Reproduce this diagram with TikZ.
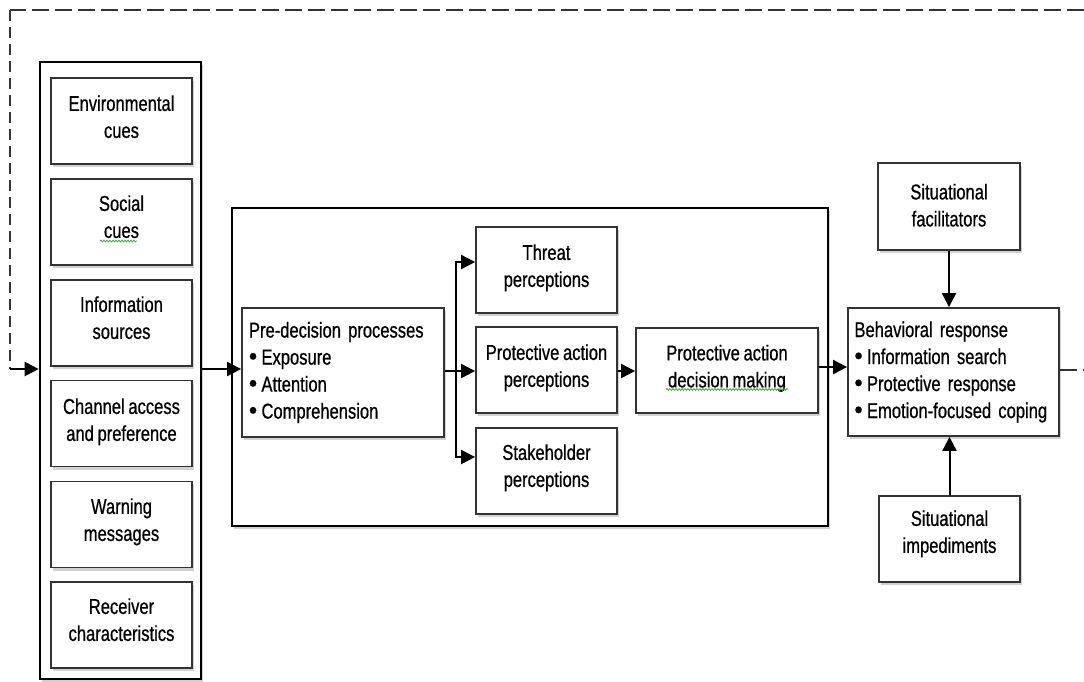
\documentclass[tikz,border=0pt]{standalone}
\usepackage{fontspec}
\setmainfont[FakeStretch=0.77,FakeBold=0.7,WordSpace=0.8]{Liberation Sans}
\usetikzlibrary{arrows.meta,shadows,decorations.pathmorphing}
\definecolor{bord}{HTML}{333333}
\definecolor{squig}{HTML}{3DAA3D}
\newcommand\tx[2][4pt]{\raisebox{#1}[\height][\depth]{\begin{tabular}{@{}c@{}}#2\end{tabular}}}
\newcommand\bul{\makebox[12.5pt][l]{\scalebox{1.4}[1.15]{\textbullet}}}
\tikzset{
  shad/.style={drop shadow={shadow xshift=2pt,shadow yshift=-3pt,opacity=0.18,fill=black}},
  bx/.style={draw=bord,line width=1.8pt,fill=white,shad,minimum width=141pt,minimum height=86pt,
    align=center,inner sep=0pt,font=\fontsize{21.5}{27}\selectfont},
  bigbox/.style={draw=black,line width=2.6pt,fill=white,shad,inner sep=0pt},
  listbox/.style={bx,align=left,text width=#1},
  arr/.style={line width=2pt,draw=black,-{Triangle[length=14pt,width=14pt]}},
  ln/.style={line width=2pt,draw=black},
  sq/.style={draw=squig,line width=0.8pt,decorate,decoration={snake,amplitude=0.9pt,segment length=3pt}},
}
\begin{document}
\begin{tikzpicture}[x=1pt,y=-1pt]
\useasboundingbox (0,0) rectangle (1084,681);
% outer column
\node[bigbox,minimum width=161pt,minimum height=617pt] (outer) at (120.5,370.5) {};
\node[bx] (env) at (121.5,121) {\tx[2pt]{Environmental\\cues}};
\node[bx] (soc) at (121.5,222) {\tx[3pt]{Social\\cues}};
\node[bx] (inf) at (121.5,323) {\tx[3pt]{Information\\sources}};
\node[bx] (chan) at (121.5,423.5) {\tx[1.5pt]{Channel access\\and preference}};
\node[bx] (warn) at (121.5,524.5) {\tx[2.5pt]{Warning\\messages}};
\node[bx] (recv) at (121.5,625) {\tx[3pt]{Receiver\\characteristics}};
% middle box
\node[bigbox,minimum width=596pt,minimum height=318pt] (mid) at (530,367) {};
\node[listbox=188pt,minimum width=202pt,minimum height=129pt] (pre) at (343,372.5)
  {Pre-decision processes\\\bul Exposure\\\bul Attention\\\bul Comprehension};
\node[bx] (thr) at (546.5,270) {\tx[2pt]{Threat\\perceptions}};
\node[bx] (pap) at (546.5,370) {\tx[2pt]{Protective action\\perceptions}};
\node[bx] (stk) at (546.5,471) {\tx[3pt]{Stakeholder\\perceptions}};
\node[bx,minimum width=182pt,minimum height=85pt] (pad) at (727,370.5) {\tx[2pt]{Protective action\\decision making}};
% right side
\node[listbox=198pt,minimum width=211pt,minimum height=128pt] (beh) at (953.5,372)
  {Behavioral response\\\bul Information search\\\bul Protective response\\\bul Emotion-focused coping};
\node[bx,minimum width=142pt,minimum height=87pt] (fac) at (949,206.5) {\tx[-1pt]{Situational\\facilitators}};
\node[bx] (imp) at (949.5,539) {\tx[5pt]{Situational\\impediments}};
% spell-check squiggles
\draw[sq] (100,241) -- (137,241);
\draw[sq] (666,389.5) -- (788,389.5);
% feedback dashed loop
\coordinate (fbR) at (1084,10);
\coordinate (fbC) at (10,10);
\coordinate (fbB) at (10,369);
\draw[line width=2.2pt,draw=bord,dash pattern=on 17pt off 6pt] (fbR) -- (fbC);
\draw[line width=2pt,draw=bord,dash pattern=on 11pt off 6pt] (fbC) -- (fbB);
\draw[arr] (fbB) -- (outer.west |- fbB);
% main flow
\draw[arr] (outer.east |- fbB) -- (pre.west |- fbB);
\coordinate (br) at (456,371);
\draw[ln] (pre.east |- br) -- (br);
\draw[arr] (br) |- ([yshift=8pt]thr.west);
\draw[arr] (br) -- (pap.west |- br);
\draw[arr] (br) |- ([yshift=14pt]stk.west);
\draw[arr] (pap.east |- br) -- (pad.west |- br);
\coordinate (bo) at (0,367);
\draw[arr] (pad.east |- bo) -- (beh.west |- bo);
\draw[arr] (fac.south) -- (beh.north -| fac.south);
\draw[arr] (imp.north) -- (beh.south -| imp.north);
\coordinate (outR) at (1084,370);
\draw[line width=2pt,draw=bord,dash pattern=on 17pt off 6pt] (beh.east |- outR) -- (outR);
\end{tikzpicture}
\end{document}
